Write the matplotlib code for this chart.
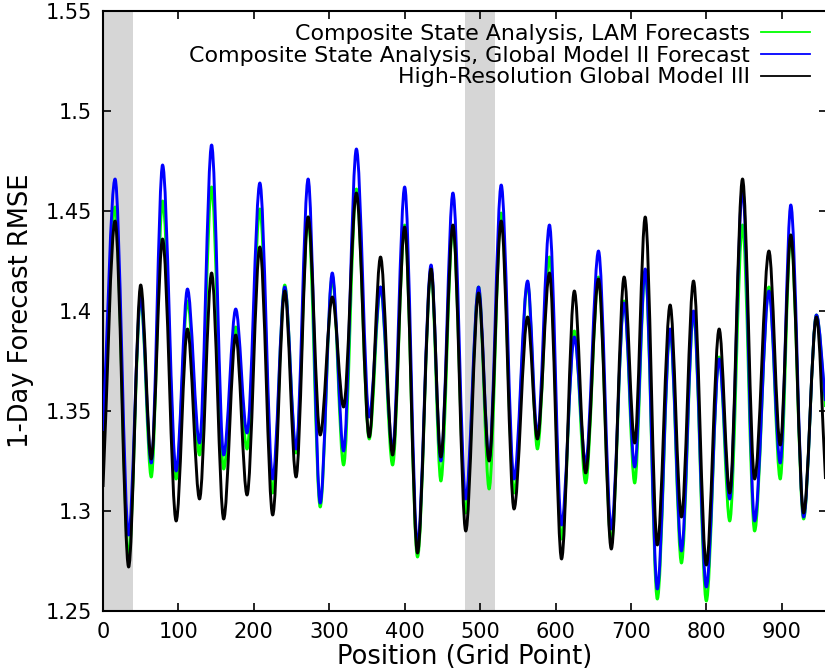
import matplotlib
matplotlib.use("Agg")
import matplotlib.pyplot as plt
from matplotlib.path import Path
from matplotlib.patches import PathPatch
from matplotlib.lines import Line2D

# grid positions of the turning points of the error curves
position = [0, 16, 34, 50, 64, 79, 97, 112, 128, 144, 160, 176, 191, 208, 225,
            241, 256, 272, 288, 304, 319, 336, 353, 368, 384, 400, 417, 435, 448,
            464, 481, 498, 512, 528, 545, 563, 576, 592, 608, 625, 640, 657, 674,
            691, 705, 719, 735, 752, 767, 783, 800, 817, 831, 848, 864, 883, 898,
            912, 929, 946, 958]

rmse_lam = [1.332, 1.452, 1.277, 1.406, 1.317, 1.455, 1.316, 1.405, 1.328, 1.462,
            1.321, 1.392, 1.331, 1.451, 1.309, 1.413, 1.329, 1.447, 1.302, 1.417,
            1.323, 1.461, 1.336, 1.412, 1.323, 1.443, 1.277, 1.420, 1.315, 1.442,
            1.299, 1.412, 1.311, 1.449, 1.309, 1.414, 1.331, 1.427, 1.286, 1.390,
            1.314, 1.417, 1.284, 1.405, 1.314, 1.420, 1.256, 1.390, 1.274, 1.399,
            1.255, 1.377, 1.295, 1.443, 1.290, 1.412, 1.316, 1.438, 1.296, 1.398,
            1.352]

rmse_global2 = [1.340, 1.466, 1.288, 1.407, 1.324, 1.473, 1.320, 1.411, 1.334, 1.483,
                1.328, 1.401, 1.339, 1.464, 1.316, 1.412, 1.331, 1.466, 1.304, 1.419,
                1.330, 1.481, 1.347, 1.412, 1.331, 1.462, 1.283, 1.423, 1.325, 1.459,
                1.306, 1.412, 1.326, 1.463, 1.316, 1.415, 1.338, 1.443, 1.293, 1.387,
                1.324, 1.430, 1.291, 1.404, 1.322, 1.421, 1.261, 1.391, 1.280, 1.400,
                1.262, 1.376, 1.306, 1.461, 1.295, 1.410, 1.324, 1.453, 1.297, 1.398,
                1.355]

rmse_global3 = [1.312, 1.445, 1.272, 1.413, 1.326, 1.436, 1.295, 1.391, 1.306, 1.419,
                1.296, 1.388, 1.308, 1.432, 1.298, 1.410, 1.317, 1.447, 1.338, 1.407,
                1.352, 1.459, 1.337, 1.427, 1.328, 1.442, 1.279, 1.421, 1.327, 1.443,
                1.290, 1.409, 1.325, 1.445, 1.301, 1.397, 1.336, 1.419, 1.276, 1.410,
                1.319, 1.416, 1.281, 1.417, 1.334, 1.447, 1.283, 1.403, 1.297, 1.415,
                1.273, 1.391, 1.309, 1.466, 1.316, 1.430, 1.333, 1.438, 1.299, 1.397,
                1.316]

labels = ["Composite State Analysis, LAM Forecasts",
          "Composite State Analysis, Global Model II Forecast",
          "High-Resolution Global Model III"]
colors = ["#00ff00", "#0000ff", "#000000"]

shaded = [(0, 40), (480, 520)]
yticks = [1.25, 1.3, 1.35, 1.4, 1.45, 1.5, 1.55]
xticks = [0, 100, 200, 300, 400, 500, 600, 700, 800, 900]


def smooth_path(x, y):
    # cubic segments between turning points, flat at the extrema
    verts = [(x[0], y[0])]
    codes = [Path.MOVETO]
    n = len(x)
    for i in range(n - 1):
        dx = (x[i + 1] - x[i]) / 3.0
        chord = (y[i + 1] - y[i]) / (x[i + 1] - x[i])
        s0 = chord if i == 0 else 0.0
        s1 = chord if i + 1 == n - 1 else 0.0
        verts += [(x[i] + dx, y[i] + s0 * dx),
                  (x[i + 1] - dx, y[i + 1] - s1 * dx),
                  (x[i + 1], y[i + 1])]
        codes += [Path.CURVE4] * 3
    return Path(verts, codes)


plt.rcParams['font.family'] = 'DejaVu Sans'

fig = plt.figure(figsize=(8.25, 6.72), dpi=100)
ax = fig.add_axes([103 / 825, 61 / 672, 724 / 825, 600 / 672])

for a, b in shaded:
    ax.axvspan(a, b, color="#d6d6d6", lw=0, zorder=0)

for i, series in enumerate([rmse_lam, rmse_global2, rmse_global3]):
    ax.add_patch(PathPatch(smooth_path(position, series), fill=False,
                           edgecolor=colors[i], lw=2.1, joinstyle='round',
                           zorder=2 + i))

ax.set_xlim(0, 960)
ax.set_ylim(1.25, 1.55)
ax.set_xticks(xticks)
ax.set_yticks(yticks)
ax.set_yticklabels(["%g" % v for v in yticks])
ax.tick_params(direction='in', length=6, width=1.2, top=True, right=True,
               labelsize=15, pad=8)
for s in ax.spines.values():
    s.set_linewidth(1.5)

ax.set_xlabel("Position (Grid Point)", fontsize=18.5, labelpad=1)
ax.set_ylabel("1-Day Forecast RMSE", fontsize=18.5, labelpad=8)

handles = [Line2D([], [], color=c, lw=1.3) for c in colors]
ax.legend(handles, labels, loc='upper right', bbox_to_anchor=(1, 1.006),
          frameon=False, markerfirst=False, fontsize=15.9, handlelength=2.25,
          handletextpad=0.5, labelspacing=0.08, borderaxespad=0.55, borderpad=0.2)

fig.savefig("out.png", dpi=100)
